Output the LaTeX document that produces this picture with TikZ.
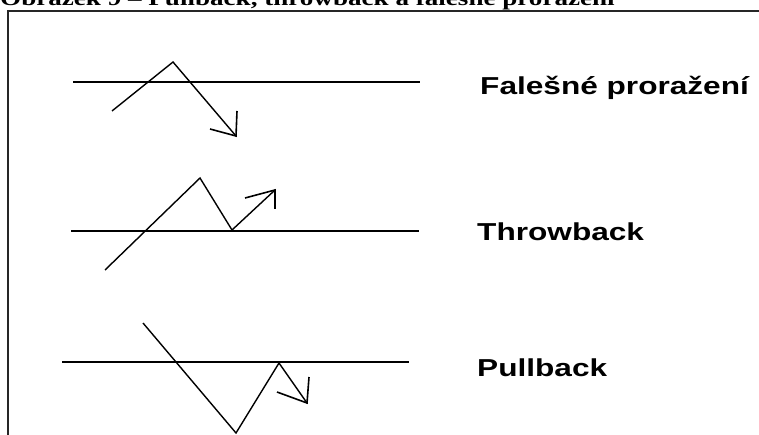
\documentclass[tikz,border=0pt]{standalone}
\usepackage{graphicx}
\usepackage{fontspec}
\setmainfont{Liberation Serif}
\newfontfamily\labelfont{Liberation Sans}
\newcommand{\wide}[1]{\scalebox{1.29}[1]{#1}}
\tikzset{
  frameline/.style={line width=1.8pt, black!85},
  level/.style={line width=2pt, black},
  price/.style={line width=1.4pt, black, line join=miter},
  barb/.style={line width=1.6pt, black},
  lbl/.style={anchor=base west, inner sep=0pt, font=\labelfont\bfseries\fontsize{24.5}{28}\selectfont},
}
\begin{document}
\begin{tikzpicture}[x=1pt,y=-1pt]
\useasboundingbox (0,0) rectangle (759,435);
\clip (0,0) rectangle (759,435);
\fill[white] (0,0) rectangle (759,435);
% title (cut off at top, as in the source)
\node[anchor=base west, inner sep=0pt, font=\bfseries\fontsize{21}{24}\selectfont] (title) at (0,6) {\wide{Obrázek 9 – Pullback, throwback a falešné proražení}};
% frame
\draw[frameline] (8,440) -- (8,11) -- (765,11);

% Row 1: Falešné proražení
\coordinate (l1a) at (73,82);
\coordinate (l1b) at (420,82);
\draw[level] (l1a) -- (l1b);
\coordinate (p1a) at (112,111);
\coordinate (p1b) at (173,62);
\coordinate (p1t) at (236,136);
\coordinate (p1u) at (237,111);
\coordinate (p1v) at (210,129);
\draw[price] (p1a) -- (p1b) -- (p1t);
\draw[barb] (p1u) -- (p1t) -- (p1v);
\node[lbl] (t1) at (480,95) {\wide{Falešné proražení}};

% Row 2: Throwback
\coordinate (l2a) at (71,231);
\coordinate (l2b) at (419,231);
\draw[level] (l2a) -- (l2b);
\coordinate (p2a) at (105,270);
\coordinate (p2b) at (200,178);
\coordinate (p2c) at (232,230);
\coordinate (p2t) at (275,190);
\coordinate (p2u) at (275,209);
\coordinate (p2v) at (245,198);
\draw[price] (p2a) -- (p2b) -- (p2c) -- (p2t);
\draw[barb] (p2u) -- (p2t) -- (p2v);
\node[lbl] (t2) at (477,241) {\wide{Throwback}};

% Row 3: Pullback
\coordinate (l3a) at (62,362);
\coordinate (l3b) at (409,362);
\draw[level] (l3a) -- (l3b);
\coordinate (p3a) at (143,323);
\coordinate (p3b) at (236,433);
\coordinate (p3c) at (279,363);
\coordinate (p3t) at (307,403);
\coordinate (p3u) at (309,377);
\coordinate (p3v) at (277,392);
\draw[price] (p3a) -- (p3b) -- (p3c) -- (p3t);
\draw[barb] (p3u) -- (p3t) -- (p3v);
\node[lbl] (t3) at (477,376) {\wide{Pullback}};
\end{tikzpicture}
\end{document}
